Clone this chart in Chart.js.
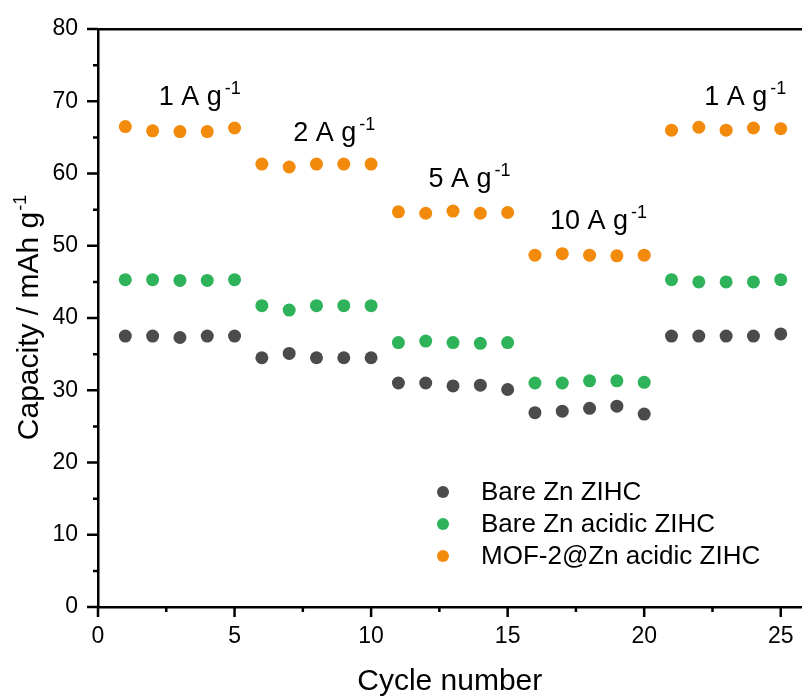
<!DOCTYPE html>
<html lang="en">
<head>
<meta charset="UTF-8">
<title>Rate capability</title>
<script src="https://cdn.jsdelivr.net/npm/chart.js"></script>
<style>
  body { margin: 0; padding: 0; background: #fff; overflow: hidden; }
  #wrap { width: 808px; height: 698px; position: relative; }
</style>
</head>
<body>
<div id="wrap"><canvas id="rateChart"></canvas></div>
<script>
// cycle numbers 1..25
var cycles = [1,2,3,4,5,6,7,8,9,10,11,12,13,14,15,16,17,18,19,20,21,22,23,24,25];

// capacity (mAh g-1)
var bareZn = [37.5,37.5,37.3,37.5,37.5, 34.5,35.1,34.5,34.5,34.5, 31.0,31.0,30.6,30.7,30.1, 26.9,27.1,27.5,27.8,26.7, 37.5,37.5,37.5,37.5,37.8];
var bareZnAcidic = [45.3,45.3,45.2,45.2,45.3, 41.7,41.1,41.7,41.7,41.7, 36.6,36.8,36.6,36.5,36.6, 31.0,31.0,31.3,31.3,31.1, 45.3,45.0,45.0,45.0,45.3];
var mofZnAcidic = [66.5,65.9,65.8,65.8,66.3, 61.3,60.9,61.3,61.3,61.3, 54.7,54.5,54.8,54.5,54.6, 48.7,48.9,48.7,48.6,48.7, 66.0,66.4,66.0,66.3,66.2];

var seriesNames = ['Bare Zn ZIHC', 'Bare Zn acidic ZIHC', 'MOF-2@Zn acidic ZIHC'];
var seriesColors = ['#4b4b4b', '#2eb35a', '#f28a0c'];

// axis tick labels
var xTickValues = [0, 5, 10, 15, 20, 25];

// current density labels (main text, superscript)
var rateLabels = ['1 A g', '2 A g', '5 A g', '10 A g', '1 A g'];

var FONT = '"Liberation Sans", Arial, sans-serif';

function toPoints(ys) {
    return cycles.map(function(c, i) { return { x: c, y: ys[i] }; });
}

// text with a "-1" superscript
function supText(ctx, text, sup, x, y, size, supSize, gap) {
    ctx.font = size + 'px ' + FONT;
    ctx.textAlign = 'left';
    ctx.textBaseline = 'alphabetic';
    ctx.fillText(text, x, y);
    var w = ctx.measureText(text).width;
    ctx.font = supSize + 'px ' + FONT;
    ctx.fillText(sup, x + w + gap, y - size * 0.4);
}

// keep the plot box fixed: no extra room for end labels
function noPad(s) {
    s.paddingTop = 0; s.paddingBottom = 0; s.paddingLeft = 0; s.paddingRight = 0;
}

var decor = {
    id: 'decor',
    afterDraw: function(chart) {
        var ctx = chart.ctx, a = chart.chartArea;
        var x = chart.scales.x, y = chart.scales.y;
        ctx.save();
        ctx.strokeStyle = '#000';
        ctx.fillStyle = '#000';
        ctx.lineWidth = 2.5;

        // major / minor ticks, pointing out
        ctx.beginPath();
        for (var v = 0; v <= 25; v += 2.5) {
            var px = x.getPixelForValue(v);
            ctx.moveTo(px, a.bottom);
            ctx.lineTo(px, a.bottom + (v % 5 === 0 ? 10 : 5));
        }
        for (var w = 0; w <= 80; w += 5) {
            var py = y.getPixelForValue(w);
            ctx.moveTo(a.left, py);
            ctx.lineTo(a.left - (w % 10 === 0 ? 11 : 5), py);
        }
        ctx.stroke();

        // axis titles
        ctx.font = '30px ' + FONT;
        ctx.textAlign = 'center';
        ctx.textBaseline = 'alphabetic';
        ctx.fillText('Cycle number', (a.left + a.right) / 2, 690);

        ctx.save();
        ctx.translate(38, (a.top + a.bottom) / 2);
        ctx.rotate(-Math.PI / 2);
        ctx.font = '30px ' + FONT;
        var tw = ctx.measureText('Capacity / mAh g').width;
        ctx.font = '18px ' + FONT;
        var sw = ctx.measureText('-1').width;
        supText(ctx, 'Capacity / mAh g', '-1', -(tw + sw) / 2, 0, 30, 18, 1);
        ctx.restore();

        // current density labels
        var labelPos = [[2.22, 69.5], [7.15, 64.5], [12.1, 58.1], [16.55, 52.3], [22.2, 69.5]];
        rateLabels.forEach(function(t, i) {
            supText(ctx, t, '-1', x.getPixelForValue(labelPos[i][0]), y.getPixelForValue(labelPos[i][1]), 27, 18, 3);
        });

        // legend
        var rows = [492, 524, 556];
        chart.data.datasets.forEach(function(ds, i) {
            ctx.beginPath();
            ctx.fillStyle = ds.backgroundColor;
            ctx.arc(443, rows[i], 6, 0, Math.PI * 2);
            ctx.fill();
            ctx.fillStyle = '#000';
            ctx.font = '26px ' + FONT;
            ctx.textAlign = 'left';
            ctx.textBaseline = 'middle';
            ctx.fillText(ds.label, 481, rows[i] + 1);
        });
        ctx.restore();
    }
};

var datasets = [bareZn, bareZnAcidic, mofZnAcidic].map(function(ys, i) {
    return {
        label: seriesNames[i],
        data: toPoints(ys),
        backgroundColor: seriesColors[i],
        borderWidth: 0,
        pointRadius: 6.5,
        pointHoverRadius: 6.5,
        showLine: false
    };
});

var ctx = document.getElementById('rateChart').getContext('2d');
var rateChart = new Chart(ctx, {
    type: 'scatter',
    data: { datasets: datasets },
    options: {
        responsive: true,
        maintainAspectRatio: false,
        animation: false,
        events: [],
        layout: { padding: { top: 29, left: 0, right: 0, bottom: 0 } },
        plugins: { legend: { display: false }, tooltip: { enabled: false } },
        scales: {
            x: {
                type: 'linear',
                position: 'bottom',
                min: 0,
                max: 25.76,
                afterFit: function(s) { s.height = 91; noPad(s); },
                afterBuildTicks: function(s) { s.ticks = xTickValues.map(function(v) { return { value: v }; }); },
                ticks: { padding: 16, color: '#000', font: { family: FONT, size: 23 }, maxRotation: 0, autoSkip: false },
                grid: { display: false, drawTicks: false },
                border: { display: true, color: '#000', width: 2.5 }
            },
            xTop: {
                type: 'linear',
                position: 'top',
                min: 0,
                max: 25.76,
                afterFit: function(s) { s.height = 0; noPad(s); },
                ticks: { display: false },
                grid: { display: false, drawTicks: false },
                border: { display: true, color: '#000', width: 2.5 }
            },
            y: {
                min: 0,
                max: 80,
                afterFit: function(s) { s.width = 98; noPad(s); },
                ticks: { stepSize: 10, padding: 20, color: '#000', font: { family: FONT, size: 23 } },
                grid: { display: false, drawTicks: false },
                border: { display: true, color: '#000', width: 2.5 }
            }
        }
    },
    plugins: [decor]
});
</script>
</body>
</html>
